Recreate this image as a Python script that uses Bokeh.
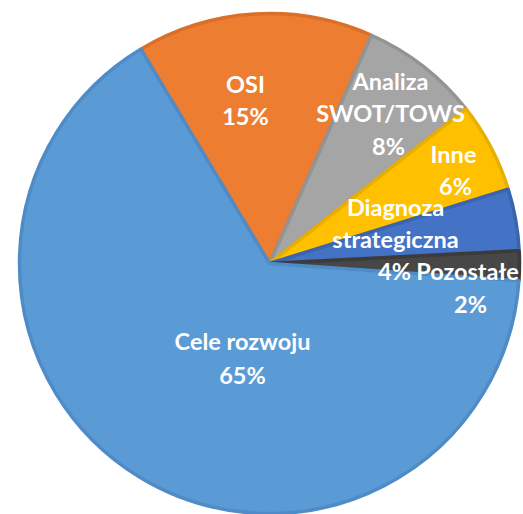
import math
from bokeh.plotting import figure
from bokeh.models import ColumnDataSource
from bokeh.core.properties import value
from bokeh.embed import file_html
from bokeh.resources import INLINE

# ---- data ----
categories = ["OSI", "Analiza\nSWOT/TOWS", "Inne", "Diagnoza\nstrategiczna", "Pozostałe", "Cele rozwoju"]
shares = [15.3, 7.7, 5.8, 4.0, 1.9, 65.3]
pct_labels = ["15%", "8%", "6%", "4%", "2%", "65%"]

# ---- styles ----
fills = ["#ED7D31", "#A5A5A5", "#FFC000", "#4472C4", "#474747", "#5B9BD5"]
edges = ["#D96F28", "#939393", "#E8AE00", "#3A64AE", "#3B3B3B", "#4E8BC7"]
W, H = 523, 514
CX, CY, R = 269, 251, 250
START_DEG = 121.0
# label anchors (dx, dy) from centre in px: last name line, then pct line
name_pos = [(-24, 180), (121, 151), (184, 110), (126, 25), (198, -7), (-27, -77)]
pct_pos = [(-24, 148), (119, 118), (186, 78), (125, -7), (201, -40), (-27, -111)]
LINE = 32

total = sum(shares)
starts, ends = [], []
a = math.radians(START_DEG)
for s in shares:
    starts.append(a)
    a -= 2 * math.pi * s / total
    ends.append(a)

src = ColumnDataSource(dict(start=starts, end=ends, fill=fills, edge=edges))

p = figure(width=W, height=H, x_range=(0, W), y_range=(0, H),
           output_backend="svg", toolbar_location=None, min_border=0)
p.axis.visible = False
p.grid.visible = False
p.outline_line_color = None
p.background_fill_color = "white"

p.wedge(x=CX, y=CY, radius=R, start_angle="start", end_angle="end",
        direction="clock", fill_color="fill", line_color="edge",
        line_width=3.5, source=src)

xs, ys, ts = [], [], []
for cat, pct, npos, ppos in zip(categories, pct_labels, name_pos, pct_pos):
    lines = cat.split("\n")
    n = len(lines)
    for i, ln in enumerate(lines):
        xs.append(CX + npos[0])
        ys.append(CY + npos[1] + (n - 1 - i) * LINE)
        ts.append(ln)
    xs.append(CX + ppos[0])
    ys.append(CY + ppos[1])
    ts.append(pct)

lsrc = ColumnDataSource(dict(x=xs, y=ys, t=ts))
p.text(x="x", y="y", text="t", source=lsrc, text_color="white",
       text_font=value("Lato"), text_font_style="bold", text_font_size="23.5px",
       text_align="center", text_baseline="middle")

open("out.html", "w").write(file_html(p, INLINE))
